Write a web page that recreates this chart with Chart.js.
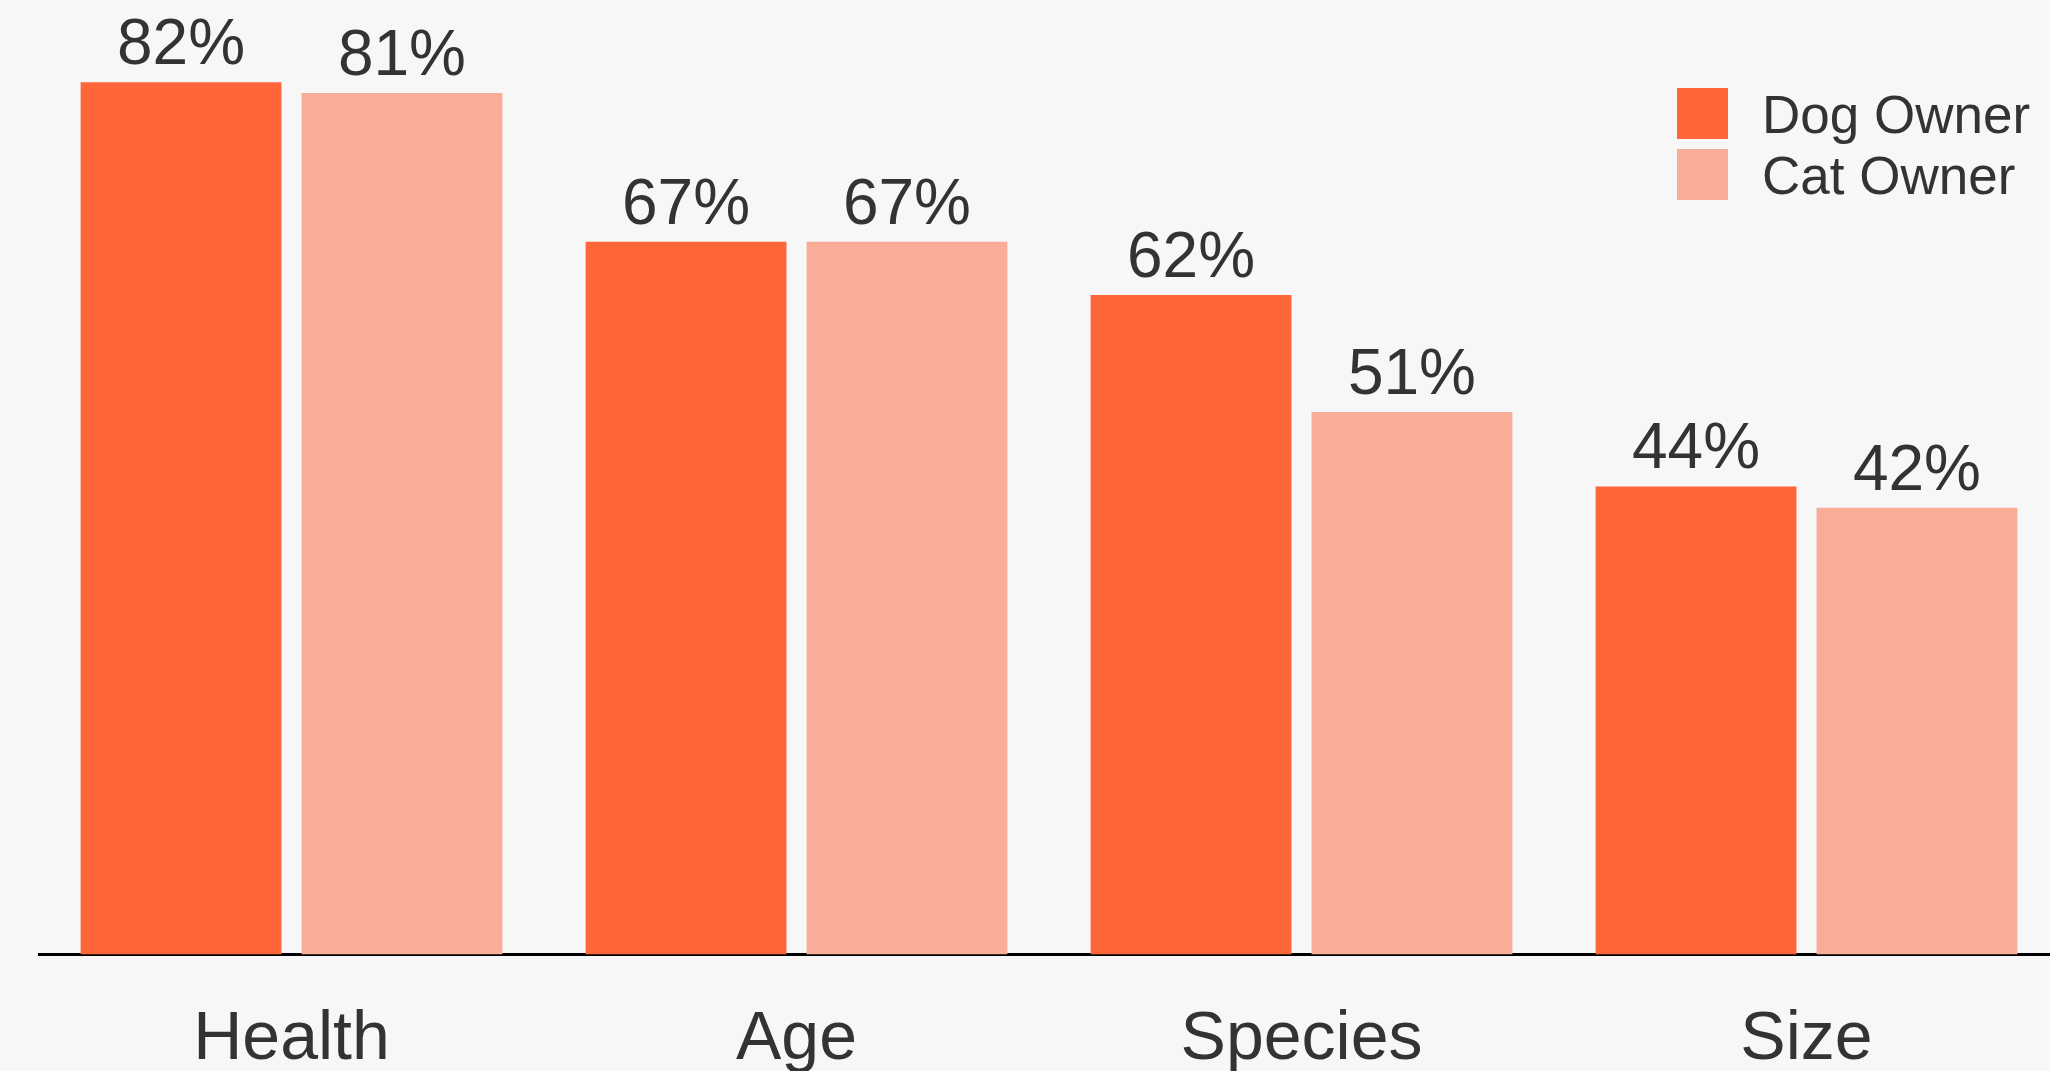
<!DOCTYPE html>
<html>
<head>
<meta charset="utf-8">
<script src="https://cdn.jsdelivr.net/npm/chart.js@4.4.1/dist/chart.umd.min.js"></script>
<style>
  html, body { margin: 0; padding: 0; background: #f7f7f7; overflow: hidden; }
  #wrap { width: 2050px; height: 1071px; overflow: hidden; }
</style>
</head>
<body>
<div id="wrap"><canvas id="bar-chart" width="2060" height="1126"></canvas></div>
<script>
const categories = ["Health", "Age", "Species", "Size"];
const dogOwner = [82, 67, 62, 44];
const catOwner = [81, 67, 51, 42];
const seriesNames = ["Dog Owner", "Cat Owner"];
const seriesColors = ["#fe6539", "#f9ac97"];

const FONT = '"Liberation Sans", Arial, Helvetica, sans-serif';
const TEXT = '#333333';

// value labels above each bar
const valueLabels = {
  id: 'valueLabels',
  afterDatasetsDraw(chart) {
    const ctx = chart.ctx;
    ctx.save();
    ctx.font = '64px ' + FONT;
    ctx.fillStyle = TEXT;
    ctx.textAlign = 'center';
    ctx.textBaseline = 'alphabetic';
    chart.data.datasets.forEach((ds, i) => {
      chart.getDatasetMeta(i).data.forEach((bar, j) => {
        ctx.fillText(ds.data[j] + '%', bar.x, bar.y - 18);
      });
    });
    ctx.restore();
  }
};

// legend top right
const sideLegend = {
  id: 'sideLegend',
  afterDraw(chart) {
    const ctx = chart.ctx;
    ctx.save();
    ctx.font = '53px ' + FONT;
    ctx.textBaseline = 'alphabetic';
    ctx.textAlign = 'left';
    chart.data.datasets.forEach((ds, i) => {
      const top = 88 + i * 61;
      ctx.fillStyle = ds.backgroundColor;
      ctx.fillRect(1677, top, 51, 51);
      ctx.fillStyle = TEXT;
      ctx.fillText(ds.label, 1762, top + 45);
    });
    ctx.restore();
  }
};

new Chart(document.getElementById("bar-chart"), {
  type: 'bar',
  data: {
    labels: categories,
    datasets: [
      { label: seriesNames[0], data: dogOwner, backgroundColor: seriesColors[0] },
      { label: seriesNames[1], data: catOwner, backgroundColor: seriesColors[1] }
    ]
  },
  options: {
    responsive: false,
    animation: false,
    devicePixelRatio: 1,
    categoryPercentage: 0.875,
    barPercentage: 0.909,
    layout: { padding: { left: 39, right: 1, top: 0, bottom: 0 } },
    plugins: {
      legend: { display: false },
      tooltip: { enabled: false }
    },
    scales: {
      x: {
        grid: { display: false, drawTicks: false, tickLength: 0 },
        border: { display: true, color: '#000000', width: 3 },
        ticks: { color: TEXT, padding: 45, font: { size: 68, family: FONT } }
      },
      y: {
        display: false,
        min: 0,
        max: 89.74
      }
    }
  },
  plugins: [valueLabels, sideLegend]
});
</script>
</body>
</html>
